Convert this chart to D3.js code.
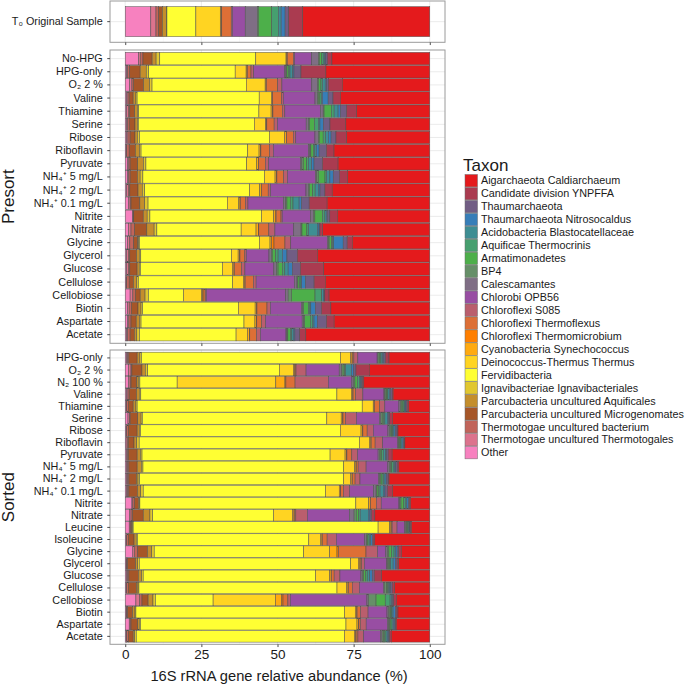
<!DOCTYPE html>
<html>
<head>
<meta charset="utf-8">
<script src="https://cdn.jsdelivr.net/npm/d3@7"></script>
<style>
  body { margin: 0; background: #fff; }
  svg text { font-family: "Liberation Sans", Arial, sans-serif; fill: #1a1a1a; }
</style>
</head>
<body>
<svg id="svg" width="685" height="686"></svg>
<script>
// legend order (top to bottom)
const taxa = [
  "Aigarchaeota Caldiarchaeum", "Candidate division YNPFFA", "Thaumarchaeota",
  "Thaumarchaeota Nitrosocaldus", "Acidobacteria Blastocatellaceae", "Aquificae Thermocrinis",
  "Armatimonadetes", "BP4", "Calescamantes", "Chlorobi OPB56", "Chloroflexi S085",
  "Chloroflexi Thermoflexus", "Chloroflexi Thermomicrobium", "Cyanobacteria Synechococcus",
  "Deinococcus-Thermus Thermus", "Fervidibacteria", "Ignavibacteriae Ignavibacteriales",
  "Parcubacteria uncultured Aquificales", "Parcubacteria uncultured Microgenomates",
  "Thermotogae uncultured bacterium", "Thermotogae uncultured Thermotogales", "Other"
];
// bars are stacked from the left starting with "Other"
const stackOrder = taxa.slice().reverse();

const t0Samples = ["T₀ Original Sample"];
const presortSamples = ["No-HPG", "HPG-only", "O₂ 2 %", "Valine", "Thiamine", "Serine", "Ribose",
  "Riboflavin", "Pyruvate", "NH₄⁺ 5 mg/L", "NH₄⁺ 2 mg/L", "NH₄⁺ 0.1 mg/L", "Nitrite", "Nitrate",
  "Glycine", "Glycerol", "Glucose", "Cellulose", "Cellobiose", "Biotin", "Aspartate", "Acetate"];
const sortedSamples = ["HPG-only", "O₂ 2 %", "N₂ 100 %", "Valine", "Thiamine", "Serine", "Ribose",
  "Riboflavin", "Pyruvate", "NH₄⁺ 5 mg/L", "NH₄⁺ 2 mg/L", "NH₄⁺ 0.1 mg/L", "Nitrite", "Nitrate",
  "Leucine", "Isoleucine", "Glycine", "Glycerol", "Glucose", "Cellulose", "Cellobiose", "Biotin",
  "Aspartate", "Acetate"];

// relative abundance (%), one row per sample, columns in stackOrder
const t0Values = [
  [8.4, 1.7, 0.9, 1.2, 1.4, 0.1, 9.5, 8.0, 0.3, 0.2, 3.1, 0.4, 4.2, 4.0, 0.3, 4.4, 2.2, 0.9, 1.3, 1.2, 4.6, 41.7]
];
const presortValues = [
  [4.4, 0.5, 0.9, 3.0, 1.3, 1.2, 31.4, 9.9, 0.2, 0.2, 2.0, 0.4, 5.6, 2.2, 0.3, 0.8, 0.5, 0.5, 0.3, 0.5, 1.5, 32.0],
  [0.5, 0.3, 0.6, 3.5, 2.0, 0.8, 28.4, 3.6, 0.3, 0.1, 1.2, 0.9, 10.2, 0.4, 0.3, 0.5, 0.5, 0.9, 0.4, 2.3, 8.2, 34.1],
  [1.4, 0.8, 0.5, 3.3, 2.0, 0.8, 30.9, 6.2, 0.3, 0.1, 3.7, 1.4, 9.8, 1.9, 0.3, 0.8, 0.5, 0.9, 0.5, 0.5, 4.6, 28.7],
  [0.5, 0.4, 0.4, 1.3, 0.9, 0.4, 40.0, 4.0, 0.3, 0.1, 3.0, 0.5, 10.4, 0.8, 0.3, 0.5, 0.5, 0.3, 1.9, 1.6, 2.4, 29.3],
  [0.5, 0.5, 0.5, 1.6, 0.9, 0.4, 39.5, 4.0, 0.5, 0.1, 3.1, 0.8, 11.7, 0.9, 0.3, 2.4, 0.9, 1.3, 0.8, 2.0, 3.3, 24.0],
  [0.5, 0.3, 0.5, 1.9, 0.8, 0.3, 38.0, 3.7, 0.3, 0.1, 2.4, 1.1, 9.4, 0.8, 0.3, 1.6, 1.3, 0.5, 1.1, 2.2, 5.2, 27.5],
  [0.5, 0.4, 0.7, 1.6, 0.8, 0.7, 42.6, 5.1, 0.5, 0.1, 2.2, 0.8, 6.3, 1.1, 0.3, 1.3, 0.8, 0.9, 0.9, 1.6, 3.5, 27.3],
  [0.3, 0.2, 0.8, 2.0, 1.4, 0.5, 35.0, 3.7, 0.5, 0.1, 2.8, 1.3, 11.5, 0.5, 0.3, 0.8, 0.5, 0.5, 0.9, 2.4, 2.5, 31.4],
  [0.8, 0.4, 0.4, 2.5, 1.9, 0.8, 33.1, 3.3, 0.5, 0.1, 2.2, 1.1, 10.4, 0.5, 0.5, 1.1, 0.5, 1.1, 0.8, 2.8, 5.1, 30.1],
  [0.8, 0.3, 0.5, 2.4, 0.9, 0.9, 39.9, 3.5, 0.5, 0.1, 2.2, 1.3, 9.1, 0.5, 0.5, 2.2, 0.5, 1.1, 1.1, 2.0, 2.7, 27.0],
  [0.5, 0.5, 0.5, 2.7, 1.4, 0.8, 34.4, 3.3, 0.5, 0.1, 2.2, 0.8, 11.6, 0.8, 0.3, 1.1, 0.8, 1.1, 0.5, 1.6, 2.4, 32.0],
  [1.1, 0.5, 0.3, 2.9, 1.6, 1.1, 26.0, 3.8, 0.4, 0.1, 1.7, 0.8, 11.7, 0.7, 0.4, 1.1, 0.9, 2.0, 0.8, 2.5, 5.9, 33.7],
  [2.4, 0.2, 0.2, 3.1, 1.3, 0.9, 36.6, 4.0, 0.5, 0.3, 1.6, 0.4, 9.3, 0.9, 0.5, 2.5, 0.8, 0.5, 0.3, 0.8, 2.5, 30.3],
  [1.1, 0.8, 1.2, 4.0, 2.4, 0.9, 27.7, 4.9, 0.8, 0.1, 3.3, 2.0, 6.2, 2.4, 0.3, 1.6, 0.5, 3.0, 0.5, 0.3, 0.9, 35.2],
  [0.8, 0.7, 1.3, 1.3, 0.3, 0.3, 39.3, 3.5, 0.5, 0.8, 3.6, 1.9, 12.0, 0.3, 0.3, 0.8, 0.3, 0.4, 3.1, 1.3, 1.7, 25.4],
  [0.5, 0.5, 0.5, 2.2, 0.9, 0.5, 29.7, 2.2, 0.5, 0.1, 1.6, 0.5, 7.4, 0.8, 0.3, 1.1, 0.8, 1.4, 1.5, 3.4, 6.6, 36.8],
  [0.5, 0.5, 0.5, 2.4, 0.7, 0.4, 26.9, 3.3, 0.5, 0.1, 2.4, 1.1, 9.5, 0.9, 0.5, 1.4, 0.8, 1.1, 1.4, 2.6, 7.7, 34.8],
  [0.3, 0.2, 0.8, 1.4, 1.1, 0.5, 30.9, 3.5, 0.5, 0.1, 2.7, 0.9, 12.6, 0.8, 0.3, 0.5, 0.5, 0.2, 1.3, 2.8, 3.7, 34.2],
  [1.6, 0.9, 0.8, 1.6, 1.6, 1.1, 11.5, 6.0, 0.3, 0.4, 0.5, 0.3, 26.0, 0.8, 1.1, 7.7, 2.2, 0.5, 0.3, 0.2, 1.4, 33.0],
  [0.8, 0.5, 0.7, 2.2, 1.0, 0.5, 31.5, 5.5, 0.5, 0.1, 3.3, 1.1, 10.2, 0.4, 0.3, 1.6, 0.5, 0.3, 1.5, 2.0, 3.1, 32.5],
  [0.8, 0.4, 0.7, 1.7, 1.1, 0.5, 33.8, 3.6, 0.5, 0.1, 1.6, 1.3, 12.0, 0.5, 0.3, 1.9, 0.7, 0.5, 1.1, 3.0, 2.5, 31.4],
  [0.5, 0.3, 0.8, 1.4, 0.8, 0.9, 31.7, 3.7, 0.7, 0.1, 2.2, 1.3, 8.4, 0.3, 0.3, 0.8, 0.5, 0.5, 0.5, 1.6, 2.0, 40.7]
];
const sortedValues = [
  [0.5, 0.3, 0.4, 2.7, 0.9, 0.5, 65.0, 3.3, 0.5, 0.1, 0.5, 1.3, 6.3, 0.3, 0.4, 0.3, 0.3, 0.5, 0.4, 0.5, 1.2, 13.3],
  [1.1, 0.8, 0.3, 3.3, 1.1, 0.8, 43.3, 4.6, 0.5, 0.1, 0.3, 3.3, 10.9, 0.8, 0.5, 0.5, 0.3, 1.9, 0.8, 0.7, 4.4, 19.9],
  [1.1, 0.5, 0.3, 1.9, 0.5, 0.5, 12.2, 32.3, 3.0, 0.3, 3.0, 10.9, 7.7, 0.5, 0.5, 0.8, 0.7, 0.4, 0.3, 0.3, 0.4, 21.6],
  [0.5, 0.4, 0.4, 2.4, 0.9, 0.5, 64.2, 4.7, 0.5, 0.1, 0.8, 2.4, 6.9, 0.3, 0.4, 0.3, 0.3, 0.5, 0.4, 0.5, 0.3, 12.0],
  [0.3, 0.2, 0.5, 1.6, 0.9, 0.4, 73.6, 3.6, 0.3, 0.1, 1.7, 1.7, 4.6, 0.5, 0.3, 0.5, 0.4, 0.3, 0.3, 0.4, 0.5, 6.9],
  [0.9, 0.5, 0.2, 2.5, 1.1, 0.4, 60.4, 4.7, 0.5, 0.1, 0.8, 3.6, 7.5, 0.5, 0.5, 0.3, 0.5, 0.8, 0.3, 0.5, 0.9, 12.2],
  [0.3, 0.2, 0.5, 2.9, 0.7, 0.4, 65.4, 6.8, 0.5, 0.1, 1.4, 2.0, 4.8, 0.5, 0.5, 0.3, 0.3, 0.4, 0.5, 0.5, 0.3, 10.4],
  [0.3, 0.4, 0.3, 1.9, 0.9, 0.8, 72.5, 3.3, 0.5, 0.1, 1.3, 2.5, 4.9, 0.3, 0.2, 0.3, 0.3, 0.4, 0.5, 0.3, 0.1, 8.2],
  [0.5, 0.3, 0.2, 2.9, 1.1, 0.5, 61.5, 4.9, 0.5, 0.1, 1.6, 1.9, 6.7, 0.4, 0.3, 0.5, 0.5, 0.8, 0.3, 0.5, 1.3, 12.3],
  [0.5, 0.3, 0.4, 2.7, 1.4, 0.5, 65.6, 3.6, 0.4, 0.1, 0.6, 2.6, 7.1, 0.5, 0.5, 0.3, 0.5, 0.5, 0.3, 0.5, 0.4, 10.2],
  [0.5, 0.3, 0.4, 2.5, 0.5, 0.5, 66.7, 2.2, 0.5, 0.1, 0.9, 1.6, 6.0, 0.4, 0.3, 0.5, 0.5, 0.5, 0.5, 0.5, 0.3, 13.3],
  [0.5, 0.3, 0.4, 2.8, 1.1, 0.8, 59.8, 4.5, 0.4, 0.1, 0.9, 2.0, 7.9, 0.8, 0.3, 0.5, 0.5, 1.1, 0.5, 0.8, 1.7, 12.2],
  [2.2, 0.3, 0.5, 1.3, 0.3, 0.2, 70.7, 4.2, 0.5, 0.1, 1.9, 1.6, 5.8, 0.3, 0.4, 0.9, 0.5, 0.5, 0.5, 0.3, 0.4, 6.3],
  [1.4, 0.5, 0.5, 3.5, 2.2, 0.9, 39.6, 6.2, 0.5, 0.1, 0.5, 3.8, 13.8, 1.5, 0.7, 0.8, 0.5, 2.7, 0.5, 0.5, 1.1, 18.0],
  [1.3, 0.3, 0.3, 0.2, 0.3, 0.2, 80.1, 3.8, 0.4, 0.1, 0.3, 1.6, 2.5, 0.4, 0.3, 0.3, 0.3, 0.2, 0.2, 0.2, 0.3, 6.0],
  [0.3, 0.2, 0.5, 1.9, 0.7, 0.4, 56.1, 3.8, 0.5, 0.1, 1.6, 3.0, 9.3, 0.5, 0.3, 0.3, 0.4, 0.5, 0.5, 0.3, 0.5, 18.0],
  [2.5, 0.5, 1.1, 3.2, 1.4, 0.8, 49.0, 8.5, 2.4, 0.5, 9.0, 3.8, 2.7, 0.5, 0.5, 0.9, 0.8, 0.5, 0.5, 0.5, 0.9, 9.3],
  [0.3, 0.2, 0.3, 2.6, 0.7, 0.5, 69.3, 2.5, 0.5, 0.1, 0.5, 0.9, 7.3, 0.3, 0.3, 0.4, 0.3, 0.8, 0.8, 0.5, 0.5, 10.2],
  [0.5, 0.3, 0.4, 3.1, 1.1, 0.5, 56.6, 4.6, 0.5, 0.1, 0.9, 1.9, 6.9, 0.5, 0.4, 0.7, 0.5, 0.8, 0.8, 0.7, 2.4, 15.8],
  [0.3, 0.2, 0.5, 2.7, 0.5, 0.3, 64.9, 3.1, 0.5, 0.1, 1.3, 2.3, 7.9, 0.3, 0.8, 0.3, 0.3, 0.4, 0.3, 0.5, 0.8, 11.5],
  [3.5, 1.2, 0.8, 2.0, 1.6, 0.8, 18.9, 20.4, 2.0, 0.5, 1.6, 0.8, 25.1, 0.5, 2.5, 3.0, 1.6, 0.5, 0.3, 0.4, 0.9, 10.9],
  [0.3, 0.2, 0.3, 1.6, 0.8, 0.3, 68.3, 3.5, 0.5, 0.1, 1.1, 2.5, 6.2, 0.5, 0.5, 0.3, 0.3, 0.4, 0.7, 0.4, 0.5, 10.4],
  [1.3, 0.3, 0.3, 2.2, 0.5, 0.4, 67.2, 3.6, 0.5, 0.1, 0.5, 1.9, 6.9, 0.5, 0.3, 0.4, 0.4, 0.4, 0.5, 0.3, 0.2, 10.9],
  [0.3, 0.2, 0.5, 1.6, 0.5, 0.5, 68.1, 3.2, 0.5, 0.1, 0.6, 1.9, 5.5, 0.5, 0.5, 0.3, 0.5, 0.4, 0.5, 0.3, 0.5, 12.6]
];
const xTicks = [0, 25, 50, 75, 100];
const xMinor = [12.5, 37.5, 62.5, 87.5];

const svg = d3.select("#svg");
const panelLeft = 110, panelRight = 445;

let x = d3.scaleLinear().domain([-0.05, 1.05]).range([panelLeft, panelRight]);
// Set1 ramp, like colorRampPalette(brewer.pal(8, "Set1"))(22)
let colour = d3.scaleOrdinal().domain(taxa)
  .range(d3.quantize(d3.piecewise(d3.interpolateRgb, d3.schemeSet1.slice(0, 8)), taxa.length));
let stack = d3.stack().keys(stackOrder).offset(d3.stackOffsetExpand);

function toRows(samples, values) {
  return samples.map((s, i) => {
    let row = { sample: s };
    stackOrder.forEach((k, j) => (row[k] = values[i][j]));
    return row;
  });
}

function drawPanel(samples, values, top, bottom, withLabels) {
  let y = d3.scaleBand().domain(samples).range([top, bottom])
    .paddingInner(0.05).paddingOuter(0.18);
  let g = svg.append("g");

  // grid
  g.selectAll(".vminor").data(xMinor).enter().append("line")
    .attr("x1", (d) => x(d / 100)).attr("x2", (d) => x(d / 100))
    .attr("y1", top).attr("y2", bottom)
    .attr("stroke", "#f0f0f0").attr("stroke-width", 0.5);
  g.selectAll(".vmajor").data(xTicks).enter().append("line")
    .attr("x1", (d) => x(d / 100)).attr("x2", (d) => x(d / 100))
    .attr("y1", top).attr("y2", bottom)
    .attr("stroke", "#e6e6e6").attr("stroke-width", 0.8);
  g.selectAll(".hmajor").data(samples).enter().append("line")
    .attr("x1", panelLeft).attr("x2", panelRight)
    .attr("y1", (d) => y(d) + y.bandwidth() / 2).attr("y2", (d) => y(d) + y.bandwidth() / 2)
    .attr("stroke", "#e6e6e6").attr("stroke-width", 0.8);

  // stacked bars
  g.selectAll(".layer")
    .data(stack(toRows(samples, values)))
    .enter()
    .append("g")
    .attr("fill", (d) => colour(d.key))
    .selectAll("rect")
    .data((d) => d)
    .enter()
    .append("rect")
    .attr("x", (d) => x(d[0]))
    .attr("width", (d) => x(d[1]) - x(d[0]))
    .attr("y", (d) => y(d.data.sample))
    .attr("height", y.bandwidth())
    .attr("stroke", "#4d4d4d")
    .attr("stroke-width", 0.5);

  // panel border
  g.append("rect")
    .attr("x", panelLeft).attr("y", top)
    .attr("width", panelRight - panelLeft).attr("height", bottom - top)
    .attr("fill", "none").attr("stroke", "#9a9a9a").attr("stroke-width", 1);

  let yAxis = g.append("g")
    .attr("transform", "translate(" + panelLeft + ",0)")
    .call(d3.axisLeft(y).tickSize(2.75).tickPadding(4.5));
  yAxis.select(".domain").remove();
  yAxis.selectAll("line").attr("stroke", "#4d4d4d");
  yAxis.selectAll("text").style("font-size", "10.8px");

  let xAxis = g.append("g")
    .attr("transform", "translate(0," + bottom + ")")
    .call(d3.axisBottom(x)
      .tickValues(xTicks.map((v) => v / 100))
      .tickSize(2.75).tickPadding(2.4)
      .tickFormat((d, i) => (withLabels ? xTicks[i] : "")));
  xAxis.select(".domain").remove();
  xAxis.selectAll("line").attr("stroke", "#4d4d4d");
  xAxis.selectAll("text").style("font-size", "13.5px");
}

drawPanel(t0Samples, t0Values, 1, 42.3, false);
drawPanel(presortSamples, presortValues, 50, 343.3, false);
drawPanel(sortedSamples, sortedValues, 350, 644.3, true);

// strip labels
svg.append("text")
  .attr("transform", "translate(14," + (50 + 343.3) / 2 + ") rotate(-90)")
  .attr("text-anchor", "middle").style("font-size", "17px").text("Presort");
svg.append("text")
  .attr("transform", "translate(14," + (350 + 644.3) / 2 + ") rotate(-90)")
  .attr("text-anchor", "middle").style("font-size", "17px").text("Sorted");

// x title
svg.append("text")
  .attr("x", 279).attr("y", 681)
  .attr("text-anchor", "middle").style("font-size", "14.7px")
  .text("16S rRNA gene relative abundance (%)");

// legend
let legend = svg.append("g");
legend.append("text").attr("x", 463).attr("y", 171).style("font-size", "17px").text("Taxon");
let keys = legend.selectAll(".legend")
  .data(taxa)
  .enter()
  .append("g")
  .attr("class", "legend")
  .attr("transform", (d, i) => "translate(465," + (180.7 + i * 12.95) + ")");
keys.append("rect")
  .attr("x", 0).attr("y", -6.2)
  .attr("width", 12.5).attr("height", 12.4)
  .attr("fill", colour)
  .attr("stroke", "#6e6e6e").attr("stroke-width", 0.5);
keys.append("text")
  .attr("x", 16).attr("dy", "0.35em")
  .style("font-size", "10.8px")
  .text((d) => d);
</script>
</body>
</html>
